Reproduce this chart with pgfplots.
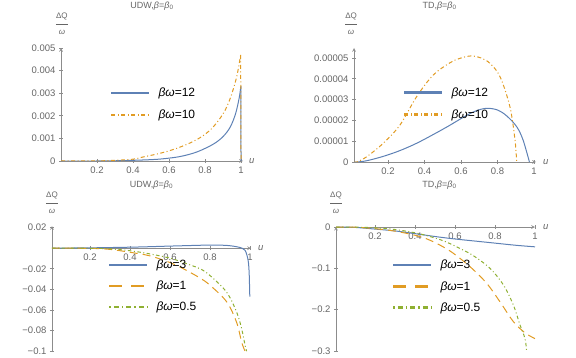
\documentclass[border=0pt]{standalone}
\usepackage{fontspec}
\setmainfont{Liberation Sans}
\usepackage{pgfplots}
\pgfplotsset{compat=1.18}
\definecolor{mblue}{rgb}{0.368417,0.506779,0.709798}
\definecolor{morange}{rgb}{0.880722,0.611041,0.142051}
\definecolor{mgreen}{rgb}{0.560181,0.691569,0.194885}
\definecolor{axgray}{rgb}{0.55,0.55,0.55}
\definecolor{tickgray}{rgb}{0.40,0.40,0.40}

\pgfplotsset{
  mma/.style={
    scale only axis, enlargelimits=false, clip mode=individual, scaled ticks=false,
    every inner x axis line/.style={}, every inner y axis line/.style={},
    every outer x axis line/.style={}, every outer y axis line/.style={},
    axis line style={-, draw=axgray, line width=0.7bp},
    tick style={draw=axgray, line width=0.6bp}, major tick length=4bp, tick align=inside,
    ticklabel style={font=\fontsize{9.5bp}{11bp}\selectfont, text=tickgray},
    legend cell align=left,
    legend style={draw=none, fill=none, inner sep=0pt, anchor=west,
      font=\fontsize{12bp}{14bp}\selectfont, row sep=8bp,
      /tikz/every odd column/.append style={column sep=6bp}},
    legend image code/.code={\draw[#1, line width=2.4bp] (0bp,0bp) -- (38bp,0bp);},
    xtick={0.2,0.4,0.6,0.8,1}, xticklabels={0.2,0.4,0.6,0.8,1},
  },
  cb/.style={mblue, line width=1bp, smooth, tension=0.55},
  cdd/.style={morange, line width=1bp, smooth, tension=0.55, dash pattern=on 4bp off 2.5bp on 1bp off 2.5bp},
  cd/.style={morange, line width=1bp, smooth, tension=0.55, dash pattern=on 8bp off 5bp, legend image post style={dash pattern=on 13bp off 9bp}},
  cg/.style={mgreen, line width=1bp, smooth, tension=0.55, dash pattern=on 3.5bp off 2.5bp on 1bp off 2.5bp, legend image post style={dash pattern=on 1.5bp off 3bp on 5bp off 3bp}},
}
\tikzset{
  ttl/.style={font=\fontsize{9bp}{11bp}\selectfont, text=tickgray, inner sep=0pt},
  dqlab/.style={font=\fontsize{8bp}{9.6bp}\selectfont, text=tickgray, inner sep=0pt, align=center},
  ulab/.style={font=\fontsize{9.5bp}{11bp}\selectfont, text=tickgray, inner sep=0pt, anchor=west},
}
\newcommand{\dq}{ΔQ\\[-4bp]\rule{12bp}{0.5bp}\\[1bp]\textit{ω}}

\begin{document}
\begin{tikzpicture}
\path[use as bounding box] (0bp,0bp) rectangle (576bp,358bp);

% top left: UDW
\begin{axis}[mma, at={(61bp,197bp)}, anchor=south west, width=182bp, height=113bp,
  axis x line=bottom, axis y line=left,
  xmin=0, xmax=1.011, ymin=0, ymax=0.005,
  ytick={0,0.001,0.002,0.003,0.004,0.005}, yticklabels={0,0.001,0.002,0.003,0.004,0.005},
  legend style={at={(rel axis cs:0.269,0.504)}}]
\addplot[cb] coordinates {(0,0) (0.2,0) (0.3,0.00001) (0.4,0.00003) (0.5,0.00006) (0.57,0.0001) (0.663,0.0002) (0.755,0.0004) (0.847,0.00075) (0.9,0.00108) (0.94,0.0015) (0.97,0.0021) (0.99,0.0028) (0.999,0.0033)};
\addlegendentry{\textit{βω}=12}
\addplot[cdd] coordinates {(0,0) (0.2,0.000005) (0.3,0.00003) (0.4,0.00008) (0.457,0.00018) (0.55,0.00034) (0.643,0.00056) (0.736,0.00087) (0.8,0.00118) (0.847,0.00152) (0.902,0.00211) (0.94,0.00277) (0.976,0.00373) (0.998,0.0047)};
\addlegendentry{\textit{βω}=10}
\addplot[cb, forget plot, sharp plot] coordinates {(0.999,0.0033) (1,0)};
\addplot[cdd, forget plot, sharp plot] coordinates {(0.998,0.0047) (1,0)};
\node[ttl] at (rel axis cs:0.5,1) [yshift=42bp] {UDW,\textit{β}=\textit{β}\textsubscript{0}};
\node[dqlab] at (rel axis cs:0.005,1) [yshift=24bp] {\dq};
\node[ulab] at (rel axis cs:1,0) [xshift=6bp] {\textit{u}};
\end{axis}

% top right: TD
\begin{axis}[mma, at={(354bp,196bp)}, anchor=south west, width=182bp, height=114bp,
  axis x line=bottom, axis y line=left,
  xmin=0.014, xmax=1.011, ymin=0, ymax=0.0000548,
  ytick={0,0.00001,0.00002,0.00003,0.00004,0.00005}, yticklabels={0,0.00001,0.00002,0.00003,0.00004,0.00005},
  legend style={at={(rel axis cs:0.269,0.513)}}]
\addplot[cb] coordinates {(0.014,0) (0.03,0) (0.083,0.0000006) (0.174,0.0000027) (0.266,0.0000055) (0.357,0.000009) (0.448,0.0000132) (0.53,0.0000172) (0.613,0.0000215) (0.68,0.0000245) (0.74,0.0000258) (0.8,0.000025) (0.85,0.0000222) (0.905,0.000017) (0.94,0.0000106) (0.975,0)};
\addlegendentry{\textit{βω}=12}
\addplot[cdd] coordinates {(0.014,0) (0.03,0) (0.083,0.0000025) (0.174,0.000009) (0.266,0.0000178) (0.357,0.0000314) (0.448,0.0000418) (0.54,0.0000477) (0.6,0.00005) (0.659,0.000051) (0.71,0.00005) (0.759,0.0000474) (0.814,0.000041) (0.868,0.0000266) (0.896,0.0000106) (0.905,0)};
\addlegendentry{\textit{βω}=10}
\node[ttl] at (rel axis cs:0.47,1) [yshift=42bp] {TD,\textit{β}=\textit{β}\textsubscript{0}};
\node[dqlab] at (rel axis cs:-0.016,1) [yshift=24bp] {\dq};
\node[ulab] at (rel axis cs:1,0) [xshift=7bp] {\textit{u}};
\end{axis}

% bottom left: UDW
\begin{axis}[mma, at={(52bp,6bp)}, anchor=south west, width=199bp, height=126bp,
  axis x line=middle, axis y line=left,
  xmin=0.01, xmax=1.005, ymin=-0.1008, ymax=0.0215,
  ytick={-0.1,-0.08,-0.06,-0.04,-0.02,0.02}, yticklabels={−0.1,−0.08,−0.06,−0.04,−0.02,0.02},
  legend style={at={(rel axis cs:0.281,0.524)}, row sep=7bp}]
\addplot[cb] coordinates {(0.01,0) (0.2,0.0003) (0.417,0.001) (0.6,0.002) (0.75,0.0028) (0.8,0.003) (0.88,0.0027) (0.93,0.0015) (0.96,0) (0.975,-0.002) (0.985,-0.007) (0.992,-0.0137) (0.996,-0.025) (0.999,-0.047)};
\addlegendentry{\textit{βω}=3}
\addplot[cd] coordinates {(0.01,0) (0.2,-0.0002) (0.3,-0.0012) (0.4,-0.004) (0.5,-0.0075) (0.6,-0.014) (0.667,-0.02) (0.75,-0.029) (0.8,-0.036) (0.883,-0.052) (0.933,-0.072) (0.958,-0.091) (0.975,-0.1)};
\addlegendentry{\textit{βω}=1}
\addplot[cg] coordinates {(0.01,0) (0.2,-0.0001) (0.3,-0.0007) (0.4,-0.0025) (0.5,-0.0056) (0.6,-0.0097) (0.667,-0.014) (0.75,-0.02) (0.8,-0.0266) (0.883,-0.0427) (0.933,-0.062) (0.958,-0.078) (0.975,-0.094) (0.983,-0.1)};
\addlegendentry{\textit{βω}=0.5}
\node[ttl] at (rel axis cs:0.5,1) [yshift=41bp] {UDW,\textit{β}=\textit{β}\textsubscript{0}};
\node[dqlab] at (rel axis cs:0,1) [yshift=23bp] {\dq};
\node[ulab] at (axis cs:1.005,0) [xshift=7bp] {\textit{u}};
\end{axis}

% bottom right: TD
\begin{axis}[mma, at={(336bp,7bp)}, anchor=south west, width=199bp, height=124.2bp,
  axis x line=middle, axis y line=left,
  xmin=0.005, xmax=1.0, ymin=-0.3, ymax=0.0005,
  ytick={-0.3,-0.2,-0.1,0}, yticklabels={−0.3,−0.2,−0.1,0},
  legend style={at={(rel axis cs:0.281,0.52)}, row sep=7bp}]
\addplot[cb] coordinates {(0.005,0) (0.1,-0.001) (0.2,-0.005) (0.3,-0.0095) (0.4,-0.016) (0.5,-0.023) (0.6,-0.029) (0.7,-0.034) (0.8,-0.039) (0.9,-0.044) (1,-0.048)};
\addlegendentry{\textit{βω}=3}
\addplot[cd] coordinates {(0.005,0) (0.1,-0.0005) (0.2,-0.004) (0.3,-0.01) (0.4,-0.02) (0.475,-0.032) (0.575,-0.058) (0.675,-0.096) (0.758,-0.136) (0.825,-0.181) (0.892,-0.229) (0.95,-0.256) (1,-0.27)};
\addlegendentry{\textit{βω}=1}
\addplot[cg] coordinates {(0.005,0) (0.1,-0.0003) (0.2,-0.002) (0.3,-0.006) (0.4,-0.014) (0.475,-0.023) (0.55,-0.035) (0.642,-0.056) (0.7,-0.072) (0.775,-0.1) (0.842,-0.14) (0.892,-0.189) (0.925,-0.237) (0.95,-0.27) (0.958,-0.3)};
\addlegendentry{\textit{βω}=0.5}
\node[ttl] at (rel axis cs:0.52,1) [yshift=42bp] {TD,\textit{β}=\textit{β}\textsubscript{0}};
\node[dqlab] at (rel axis cs:0,1) [yshift=24bp] {\dq};
\node[ulab] at (axis cs:1,0) [xshift=8bp] {\textit{u}};
\end{axis}
\end{tikzpicture}
\end{document}
